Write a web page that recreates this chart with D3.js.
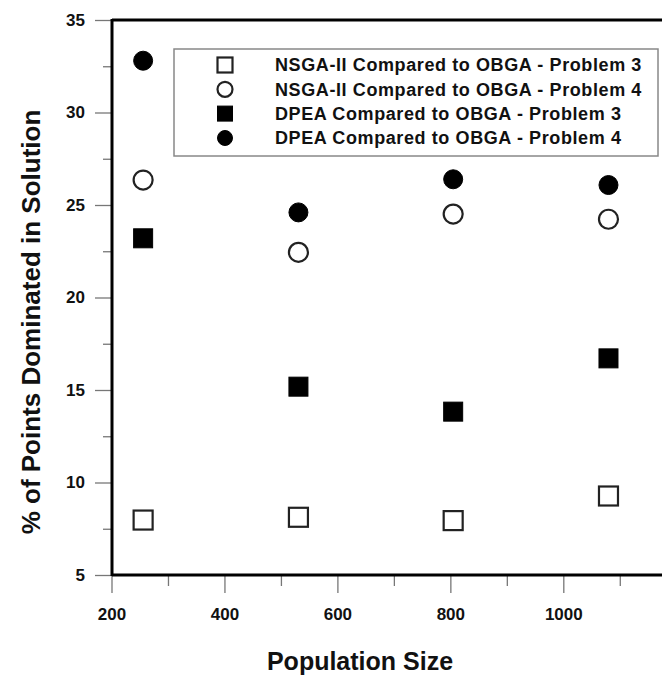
<!DOCTYPE html>
<html>
<head>
<meta charset="utf-8">
<script src="https://cdn.jsdelivr.net/npm/d3@7"></script>
<style>
  html, body { margin: 0; padding: 0; background: #fff; }
  svg { display: block; }
  text { font-family: Arial, "Liberation Sans", sans-serif; font-weight: bold; fill: #111; }
</style>
</head>
<body>
<svg id="chart" width="662" height="675"></svg>
<script>
// ---- data ----
const popSize = [256, 531, 805, 1080];
const nsgaP3 = [7.97, 8.12, 7.94, 9.27];
const nsgaP4 = [26.35, 22.44, 24.51, 24.23];
const dpeaP3 = [23.2, 15.18, 13.83, 16.71];
const dpeaP4 = [32.8, 24.6, 26.39, 26.08];
const seriesNames = [
  "NSGA-II Compared to OBGA - Problem 3",
  "NSGA-II Compared to OBGA - Problem 4",
  "DPEA Compared to OBGA - Problem 3",
  "DPEA Compared to OBGA - Problem 4"
];
const xTicks = [200, 400, 600, 800, 1000];
const xMinorTicks = [300, 500, 700, 900, 1100];
const yTicks = [5, 10, 15, 20, 25, 30, 35];
const yMinorTicks = [7.5, 12.5, 17.5, 22.5, 27.5, 32.5];

const series = [
  { name: seriesNames[0], values: nsgaP3, shape: "square", filled: false },
  { name: seriesNames[1], values: nsgaP4, shape: "circle", filled: false },
  { name: seriesNames[2], values: dpeaP3, shape: "square", filled: true },
  { name: seriesNames[3], values: dpeaP4, shape: "circle", filled: true }
];

// ---- layout ----
const svg = d3.select("#chart");
const pLeft = 112, pTop = 20, pBottom = 575, pRight = 662;
const x = d3.scaleLinear().domain([200, 1000]).range([111.5, 563.3]);
const y = d3.scaleLinear().domain([5, 35]).range([pBottom, pTop]);

svg.append("rect").attr("width", 662).attr("height", 675).attr("fill", "#fff");

// ticks (grey, thin)
const tickColor = "#777";
const gyMajor = svg.append("g").attr("transform", `translate(${pLeft},0)`)
  .call(d3.axisLeft(y).tickValues(yTicks).tickSize(17).tickPadding(10).tickFormat(d3.format("d")));
const gyMinor = svg.append("g").attr("transform", `translate(${pLeft},0)`)
  .call(d3.axisLeft(y).tickValues(yMinorTicks).tickSize(9).tickFormat(""));
const gxMajor = svg.append("g").attr("transform", `translate(0,${pBottom})`)
  .call(d3.axisBottom(x).tickValues(xTicks).tickSize(18).tickPadding(15).tickFormat(d3.format("d")));
const gxMinor = svg.append("g").attr("transform", `translate(0,${pBottom})`)
  .call(d3.axisBottom(x).tickValues(xMinorTicks).tickSize(11).tickFormat(""));

[gyMajor, gyMinor, gxMajor, gxMinor].forEach(g => {
  g.select(".domain").remove();
  g.selectAll(".tick line").attr("stroke", tickColor).attr("stroke-width", 1.3);
  g.selectAll(".tick text").attr("font-size", 17).attr("font-weight", "bold")
    .attr("fill", "#111").attr("font-family", "Arial, 'Liberation Sans', sans-serif");
});

// frame lines
svg.append("line").attr("x1", pLeft).attr("x2", pLeft).attr("y1", pTop - 1).attr("y2", pBottom + 1)
  .attr("stroke", "#000").attr("stroke-width", 3);
svg.append("line").attr("x1", pLeft).attr("x2", pRight).attr("y1", pTop).attr("y2", pTop)
  .attr("stroke", "#000").attr("stroke-width", 3);
svg.append("line").attr("x1", pLeft).attr("x2", pRight).attr("y1", pBottom).attr("y2", pBottom)
  .attr("stroke", "#000").attr("stroke-width", 3);

// axis titles
svg.append("text").attr("x", 360).attr("y", 670).attr("text-anchor", "middle")
  .attr("font-size", 25).text("Population Size");
svg.append("text").attr("transform", `translate(40,322) rotate(-90)`).attr("text-anchor", "middle")
  .attr("font-size", 26).text("% of Points Dominated in Solution");

// markers
function drawMarker(g, s, cx, cy, size) {
  const stroke = s.filled ? "#000" : "#222";
  if (s.shape === "square") {
    g.append("rect").attr("x", cx - size / 2).attr("y", cy - size / 2)
      .attr("width", size).attr("height", size)
      .attr("fill", s.filled ? "#000" : "#fff")
      .attr("stroke", stroke).attr("stroke-width", s.filled ? 1 : 2.2);
  } else {
    g.append("circle").attr("cx", cx).attr("cy", cy).attr("r", size / 2)
      .attr("fill", s.filled ? "#000" : "#fff")
      .attr("stroke", stroke).attr("stroke-width", s.filled ? 1 : 2.2);
  }
}

const gPts = svg.append("g");
series.forEach(s => {
  s.values.forEach((v, i) => drawMarker(gPts, s, x(popSize[i]), y(v), 19));
});

// legend
const lg = svg.append("g");
lg.append("rect").attr("x", 174).attr("y", 49).attr("width", 484).attr("height", 107)
  .attr("fill", "#fff").attr("stroke", "#888").attr("stroke-width", 1.5);
const rowY = [65, 89.3, 113.6, 138];
series.forEach((s, i) => {
  drawMarker(lg, s, 225, rowY[i], 15);
  lg.append("text").attr("x", 275).attr("y", rowY[i]).attr("dy", "0.35em")
    .attr("font-size", 18).attr("letter-spacing", 0.6).text(s.name);
});
</script>
</body>
</html>
